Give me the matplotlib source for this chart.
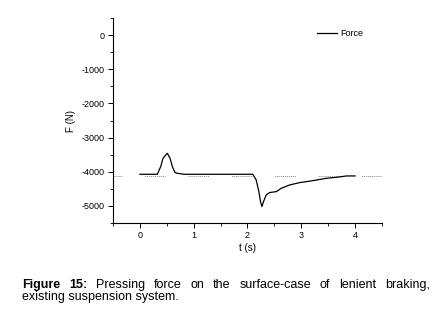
import matplotlib
matplotlib.use("Agg")
import matplotlib.pyplot as plt
from matplotlib.ticker import MultipleLocator

# Data
t = [0.0, 0.324, 0.386, 0.430, 0.480, 0.511, 0.561, 0.604, 0.654, 0.698, 0.822,
     2.100, 2.162, 2.212, 2.243, 2.268, 2.299, 2.349, 2.411, 2.536, 2.629, 2.785,
     2.972, 3.221, 3.470, 3.657, 3.844, 4.0]
force = [-4074, -4074, -3850, -3606, -3509, -3460, -3606, -3850, -4025, -4045, -4074,
         -4074, -4240, -4581, -4873, -5019, -4873, -4678, -4610, -4581, -4483, -4386,
         -4318, -4259, -4191, -4162, -4123, -4123]
ref_level = -4123

xticks = [0, 1, 2, 3, 4]
yticks = [0, -1000, -2000, -3000, -4000, -5000]

plt.rcParams['font.family'] = ['Liberation Sans', 'DejaVu Sans']

fig = plt.figure(figsize=(4.38, 3.11), dpi=100)
ax = fig.add_axes([0.258, 0.283, 0.614, 0.659])

dash = [1.0, 1.0] * 10 + [1.0, 23.6]
ax.axhline(ref_level, color='#888888', lw=0.7, linestyle=(12, tuple(dash)))
ax.plot(t, force, color='black', lw=0.9, label='Force')

ax.set_xlim(-0.5, 4.5)
ax.set_ylim(-5500, 500)
ax.set_xticks(xticks)
ax.set_yticks(yticks)
ax.set_yticklabels([str(v) for v in yticks])
ax.xaxis.set_minor_locator(MultipleLocator(0.5))
ax.yaxis.set_minor_locator(MultipleLocator(500))
for s in ['top', 'right']:
    ax.spines[s].set_visible(False)
ax.spines['left'].set_linewidth(0.8)
ax.spines['bottom'].set_linewidth(0.8)
ax.tick_params(axis='both', which='major', direction='out', length=3.6, width=0.7,
               labelsize=6.5, pad=2.2)
ax.tick_params(axis='both', which='minor', direction='out', length=2.2, width=0.6)
ax.set_xlabel('t (s)', fontsize=7, labelpad=2)
ax.set_ylabel('F (N)', fontsize=7, labelpad=4)

leg = ax.legend(loc='upper right', frameon=False, fontsize=6.5, handlelength=2.2,
                handletextpad=0.3, bbox_to_anchor=(0.96, 0.985))

# Caption (justified first line)
fig.canvas.draw()
r = fig.canvas.get_renderer()
fs = 9
x0, x1 = 22 / 438, 430 / 438
y1, y2 = 1 - 288 / 311, 1 - 300 / 311
words = [('Figure', 'bold'), ('15:', 'bold'), ('Pressing', 'normal'), ('force', 'normal'),
         ('on', 'normal'), ('the', 'normal'), ('surface-case', 'normal'), ('of', 'normal'),
         ('lenient', 'normal'), ('braking,', 'normal')]
texts = []
widths = []
for w, fw in words:
    tx = fig.text(0, y1, w, fontsize=fs, fontweight=fw, va='baseline', ha='left')
    bb = tx.get_window_extent(r)
    widths.append(bb.width / fig.bbox.width)
    texts.append(tx)
gap = (x1 - x0 - sum(widths)) / (len(words) - 1)
xp = x0
for tx, wd in zip(texts, widths):
    tx.set_x(xp)
    xp += wd + gap
fig.text(x0, y2, 'existing suspension system.', fontsize=fs, va='baseline', ha='left')

fig.savefig('out.png', dpi=100)
